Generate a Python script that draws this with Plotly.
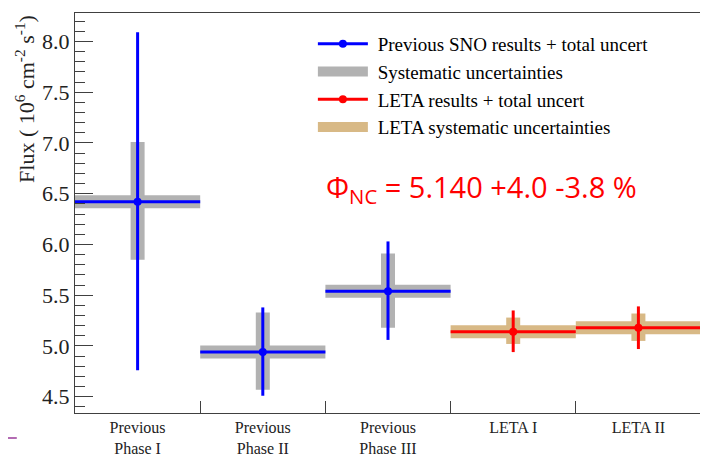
import plotly.graph_objects as go

# ---------------- data ----------------
categories = ["Previous<br>Phase I", "Previous<br>Phase II", "Previous<br>Phase III", "LETA I", "LETA II"]

sno_flux = [6.42, 4.94, 5.54]
sno_tot_plus = [1.67, 0.44, 0.49]
sno_tot_minus = [1.66, 0.43, 0.48]
sno_sys_plus = [0.59, 0.39, 0.37]
sno_sys_minus = [0.57, 0.37, 0.36]

leta_flux = [5.14, 5.18]
leta_tot_plus = [0.21, 0.21]
leta_tot_minus = [0.20, 0.21]
leta_sys_plus = [0.14, 0.14]
leta_sys_minus = [0.12, 0.13]

legend_names = ["Previous SNO results + total uncert", "Systematic uncertainties",
                "LETA results + total uncert", "LETA systematic uncertainties"]

annotation_text = "Φ<sub>NC</sub> = 5.140 +4.0 -3.8 %"
y_title = "Flux ( 10<sup>6</sup> cm<sup>-2</sup> s<sup>-1</sup>)"

# ---------------- styling ----------------
BLUE = "#0000ff"
RED = "#ff0000"
GRAY = "#b2b2b2"
TAN = "#d8b986"
SERIF = "Liberation Serif, Times New Roman, serif"

n_sno = len(sno_flux)
sno_x = [i + 0.5 for i in range(n_sno)]
leta_x = [n_sno + i + 0.5 for i in range(len(leta_flux))]
half_bin = 0.5

fig = go.Figure()


def add_group(x, y, tp, tm, sp, sm, col, band):
    # systematic band (thick cross)
    fig.add_trace(go.Scatter(
        x=x, y=y, mode="markers", showlegend=False, hoverinfo="skip",
        marker=dict(size=1, color="rgba(0,0,0,0)"),
        error_x=dict(type="constant", value=half_bin, thickness=13, width=0, color=band),
        error_y=dict(type="data", symmetric=False, array=sp, arrayminus=sm,
                     thickness=14, width=0, color=band),
    ))
    # central value + total uncertainty
    fig.add_trace(go.Scatter(
        x=x, y=y, mode="markers", showlegend=False,
        marker=dict(size=8, color=col),
        error_x=dict(type="constant", value=half_bin, thickness=3, width=0, color=col),
        error_y=dict(type="data", symmetric=False, array=tp, arrayminus=tm,
                     thickness=3, width=0, color=col),
    ))


add_group(sno_x, sno_flux, sno_tot_plus, sno_tot_minus, sno_sys_plus, sno_sys_minus, BLUE, GRAY)
add_group(leta_x, leta_flux, leta_tot_plus, leta_tot_minus, leta_sys_plus, leta_sys_minus, RED, TAN)

# legend entries
fig.add_trace(go.Scatter(x=[None], y=[None], mode="lines+markers", name=" " + legend_names[0],
                         line=dict(color=BLUE, width=3), marker=dict(size=8, color=BLUE)))
fig.add_trace(go.Scatter(x=[None], y=[None], mode="lines", name=" " + legend_names[1],
                         line=dict(color=GRAY, width=13)))
fig.add_trace(go.Scatter(x=[None], y=[None], mode="lines+markers", name=" " + legend_names[2],
                         line=dict(color=RED, width=3), marker=dict(size=8, color=RED)))
fig.add_trace(go.Scatter(x=[None], y=[None], mode="lines", name=" " + legend_names[3],
                         line=dict(color=TAN, width=13)))

AX = "#404040"
# the page body adds an 8 px offset, so the figure is 700x450 with matching margins
fig.update_layout(
    width=700, height=450,
    margin=dict(l=67, r=7, t=5, b=45, autoexpand=False),
    paper_bgcolor="white", plot_bgcolor="white",
    font=dict(family=SERIF, size=18, color="black"),
    showlegend=True,
    legend=dict(x=0.38, y=0.97, xanchor="left", yanchor="top",
                bgcolor="rgba(0,0,0,0)", itemwidth=50,
                font=dict(family=SERIF, size=19, color="black")),
    xaxis=dict(range=[0, 5], showgrid=False, zeroline=False,
               showline=True, mirror=True, linecolor=AX, linewidth=1,
               tickmode="array", tickvals=[i + 0.5 for i in range(len(categories))],
               ticktext=categories, ticks="inside", ticklen=1, tickcolor="rgba(0,0,0,0)",
               tickfont=dict(family=SERIF, size=16, color="#222"),
               minor=dict(tickmode="linear", tick0=0, dtick=1, ticks="inside",
                          ticklen=12, tickcolor=AX, tickwidth=1)),
    yaxis=dict(range=[4.34, 8.28], showgrid=False, zeroline=False,
               showline=True, mirror=True, linecolor=AX, linewidth=1,
               tickmode="linear", tick0=4.5, dtick=0.5, tickformat=".1f",
               ticks="inside", ticklen=18, tickcolor=AX, tickwidth=1,
               tickfont=dict(family=SERIF, size=22, color="#222"),
               minor=dict(dtick=0.1, ticks="inside", ticklen=10, tickcolor=AX, tickwidth=1)),
    annotations=[
        dict(text=annotation_text, xref="paper", yref="paper", x=0.65, y=0.5625,
             xanchor="center", yanchor="middle", showarrow=False,
             font=dict(family="Open Sans, sans-serif", size=29, color=RED)),
        dict(text=y_title, xref="paper", yref="paper", x=-0.080, y=1.0,
             xanchor="center", yanchor="top", textangle=-90, showarrow=False,
             font=dict(family=SERIF, size=22, color="#222")),
    ],
    shapes=[dict(type="line", xref="paper", yref="paper", x0=-0.107, x1=-0.093,
                 y0=-0.0625, y1=-0.0625, line=dict(color="#b36bb3", width=2))],
)

fig.write_html("out.html")
